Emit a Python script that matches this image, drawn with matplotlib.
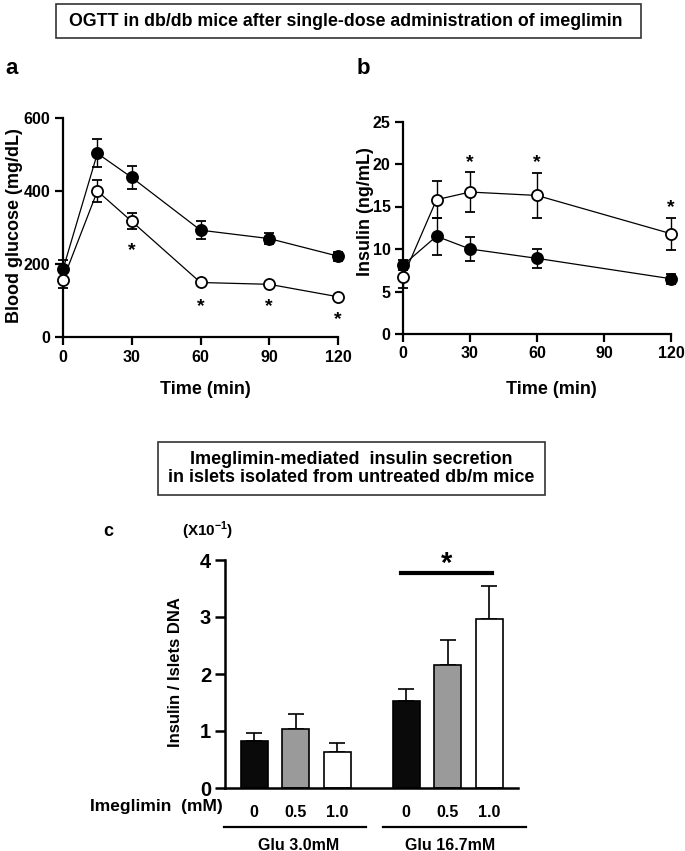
import matplotlib
matplotlib.use("Agg")
import matplotlib.pyplot as plt
from matplotlib.patches import Rectangle

# ---- data ----
time_a = [0, 15, 30, 60, 90, 120]
glu_ctrl = [185, 502, 436, 292, 269, 221]
glu_ctrl_err = [25, 38, 32, 25, 15, 12]
glu_ime = [156, 399, 316, 149, 144, 110]
glu_ime_err = [22, 30, 22, 6, 6, 6]
glu_star_t = [30, 60, 90, 120]
glu_star_y = [236, 84, 84, 48]

time_b = [0, 15, 30, 60, 120]
ins_ctrl = [8.1, 11.5, 10.0, 8.9, 6.5]
ins_ctrl_err = [0.6, 2.2, 1.4, 1.1, 0.6]
ins_ime = [6.7, 15.8, 16.7, 16.3, 11.8]
ins_ime_err = [1.3, 2.2, 2.4, 2.7, 1.9]
ins_star_t = [30, 60, 120]
ins_star_y = [20.2, 20.2, 14.9]

dose_labels = ["0", "0.5", "1.0", "0", "0.5", "1.0"]
group_labels = ["Glu 3.0mM", "Glu 16.7mM"]
secretion = [0.83, 1.04, 0.63, 1.52, 2.15, 2.96]
secretion_err = [0.13, 0.25, 0.16, 0.22, 0.44, 0.58]
bar_colors = ["#0a0a0a", "#9a9a9a", "#ffffff", "#0a0a0a", "#9a9a9a", "#ffffff"]

FONT = ["Liberation Sans", "DejaVu Sans"]

plt.rcParams["font.family"] = FONT
plt.rcParams["font.weight"] = "bold"
plt.rcParams["mathtext.fontset"] = "custom"
plt.rcParams["mathtext.rm"] = "Liberation Sans:bold"
plt.rcParams["mathtext.bf"] = "Liberation Sans:bold"

W, H = 685, 851
fig = plt.figure(figsize=(W / 100, H / 100), dpi=100)


def fx(px):
    return px / W


def fy(py):
    return 1 - py / H


def axes_px(x0, x1, ytop, ybot):
    return fig.add_axes([fx(x0), fy(ybot), (x1 - x0) / W, (ybot - ytop) / H])


def style(ax, lw=1.6):
    for s in ("top", "right"):
        ax.spines[s].set_visible(False)
    for s in ("left", "bottom"):
        ax.spines[s].set_linewidth(lw)
    ax.tick_params(width=lw, length=6, direction="out")


def series(ax, x, y, err, filled):
    c = ax.errorbar(x, y, yerr=err, fmt="o-", color="k", lw=0.9,
                    mfc="k" if filled else "white", mec="k", mew=1.3,
                    ms=8, capsize=3.5, elinewidth=1.0, capthick=1.0,
                    zorder=4 if not filled else 3)
    for art in c.get_children():
        art.set_clip_on(False)


# ---- panel a ----
ax = axes_px(63, 338, 117.5, 337)
style(ax)
series(ax, time_a, glu_ctrl, glu_ctrl_err, True)
series(ax, time_a, glu_ime, glu_ime_err, False)
for t, y in zip(glu_star_t, glu_star_y):
    ax.text(t, y, "*", ha="center", va="center", fontsize=14)
ax.set_xlim(0, 120)
ax.set_ylim(0, 600)
ax.set_xticks([0, 30, 60, 90, 120])
ax.set_yticks([0, 200, 400, 600])
ax.tick_params(labelsize=11.5, pad=3)

# ---- panel b ----
ax = axes_px(403, 671, 121.5, 334)
style(ax)
series(ax, time_b, ins_ctrl, ins_ctrl_err, True)
series(ax, time_b, ins_ime, ins_ime_err, False)
for t, y in zip(ins_star_t, ins_star_y):
    ax.text(t, y, "*", ha="center", va="center", fontsize=14)
ax.set_xlim(0, 120)
ax.set_ylim(0, 25)
ax.set_xticks([0, 30, 60, 90, 120])
ax.set_yticks([0, 5, 10, 15, 20, 25])
ax.tick_params(labelsize=11.5, pad=3)

# ---- panel c ----
xpos = [0, 1, 2, 3.66, 4.66, 5.66]
ax = axes_px(225, 518, 560, 788)
style(ax, lw=1.8)
ax.bar(xpos, secretion, width=0.65, color=bar_colors, edgecolor="k",
       linewidth=1.2, zorder=2)
ax.errorbar(xpos, secretion, yerr=[[0] * 6, secretion_err], fmt="none",
            ecolor="k", elinewidth=1.2, capsize=6, capthick=1.2, zorder=1)
ax.set_xlim(-0.70, 6.35)
ax.set_ylim(0, 4)
ax.set_yticks([0, 1, 2, 3, 4])
ax.tick_params(axis="y", labelsize=14.5, length=7, pad=3)
ax.set_xticks(xpos)
ax.set_xticklabels(dose_labels)
ax.tick_params(axis="x", length=0, labelsize=11.5, pad=12)
ax.set_xticks([1, 4.66], minor=True)
ax.tick_params(axis="x", which="minor", length=4, width=1.2)
# significance bar
ax.plot([3.53, 5.72], [3.77, 3.77], color="k", lw=3, clip_on=False)
ax.text(4.62, 3.93, "*", ha="center", va="center", fontsize=21)
# group lines and labels
tr = ax.get_xaxis_transform()
for x0, x1, xc, lab in [(-0.72, 2.69, 1.06, group_labels[0]),
                        (3.10, 6.54, 4.71, group_labels[1])]:
    ax.plot([x0, x1], [-0.171, -0.171], color="k", lw=1.6,
            transform=tr, clip_on=False)
    ax.text(xc, -0.25, lab, transform=tr, ha="center", va="center",
            fontsize=11.5)

# ---- labels ----
fig.text(fx(12), fy(69), "a", fontsize=16, ha="center", va="center")
fig.text(fx(363), fy(68), "b", fontsize=16, ha="center", va="center")
fig.text(fx(108), fy(531), "c", fontsize=13, ha="center", va="center")

fig.text(fx(15), fy(226), "Blood glucose (mg/dL)", rotation=90,
         fontsize=13, ha="center", va="center")
fig.text(fx(365), fy(212), "Insulin (ng/mL)", rotation=90,
         fontsize=13, ha="center", va="center")
fig.text(fx(205), fy(389), "Time (min)", fontsize=13, ha="center", va="center")
fig.text(fx(551), fy(389), "Time (min)", fontsize=13, ha="center", va="center")

fig.text(fx(176), fy(672), "Insulin / Islets DNA", rotation=90,
         fontsize=12, ha="center", va="center")
fig.text(fx(208), fy(531), r"(X10$^{-1}$)", fontsize=11, ha="center", va="center")
fig.text(fx(156), fy(807), "Imeglimin  (mM)", fontsize=12.5, ha="center", va="center")

# ---- boxed titles ----
fig.add_artist(Rectangle((fx(56), fy(38)), (641 - 56) / W, 34 / H,
                         transform=fig.transFigure, fill=False,
                         edgecolor="#333333", lw=1.2))
fig.text(fx(346), fy(21),
         "OGTT in db/db mice after single-dose administration of imeglimin",
         fontsize=12.8, ha="center", va="center")
fig.add_artist(Rectangle((fx(158), fy(495)), (545 - 158) / W, 53 / H,
                         transform=fig.transFigure, fill=False,
                         edgecolor="#333333", lw=1.2))
fig.text(fx(351), fy(468.5),
         "Imeglimin-mediated  insulin secretion\nin islets isolated from untreated db/m mice",
         fontsize=13, ha="center", va="center", linespacing=1.15)

fig.savefig("out.png", dpi=100)
